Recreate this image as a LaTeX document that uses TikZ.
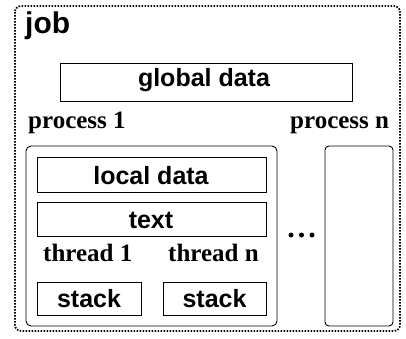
\documentclass[tikz,border=0pt]{standalone}
\usepackage{fontspec}
\setmainfont{Liberation Serif}
\setsansfont{Liberation Sans}
\begin{document}
\begin{tikzpicture}[x=1pt,y=-1pt,
  sanslbl/.style={font=\sffamily\bfseries\fontsize{25}{25}\selectfont, inner sep=0pt, anchor=base},
  seriflbl/.style={font=\rmfamily\bfseries\fontsize{25}{25}\selectfont, inner sep=0pt, anchor=base west},
  boxline/.style={draw, line width=0.9pt},
  dotbox/.style={draw, line width=1.7pt, dash pattern=on 1.6pt off 1.4pt, rounded corners=6pt}]
\useasboundingbox (0,0) rectangle (406,338);
% outer job
\draw[dotbox] (15,6) rectangle (400,331);
\node[sanslbl, anchor=base west, font=\sffamily\bfseries\fontsize{30}{30}\selectfont] (job) at (25,33) {job};
% global data
\draw[boxline] (60,63) rectangle (352,101);
\node[sanslbl] (global) at (204,86) {global data};
% process labels
\node[seriflbl] (p1) at (28,128) {process 1};
\node[seriflbl] (pn) at (290,128) {process n};
% process 1 box
\draw[boxline, rounded corners=5pt] (26,146) rectangle (277,326);
% process n box
\draw[boxline, rounded corners=4pt] (325,146) rectangle (393,326);
% local data
\draw[boxline] (37,157) rectangle (266,192);
\node[sanslbl] (local) at (151,184) {local data};
% text
\draw[boxline] (37,202) rectangle (266,236);
\node[sanslbl] (text) at (151,228) {text};
% threads
\node[seriflbl] (t1) at (43,261) {thread 1};
\node[seriflbl] (tn) at (168,261) {thread n};
% stacks
\draw[boxline] (37,282) rectangle (141,315);
\node[sanslbl] (s1) at (89,307) {stack};
\draw[boxline] (163,282) rectangle (266,315);
\node[sanslbl] (s2) at (214.5,307) {stack};
% dots
\foreach \x/\n in {291/d1,301.5/d2,312/d3}
  \fill (\x,235) circle (2.5pt) coordinate (\n);
\end{tikzpicture}
\end{document}
